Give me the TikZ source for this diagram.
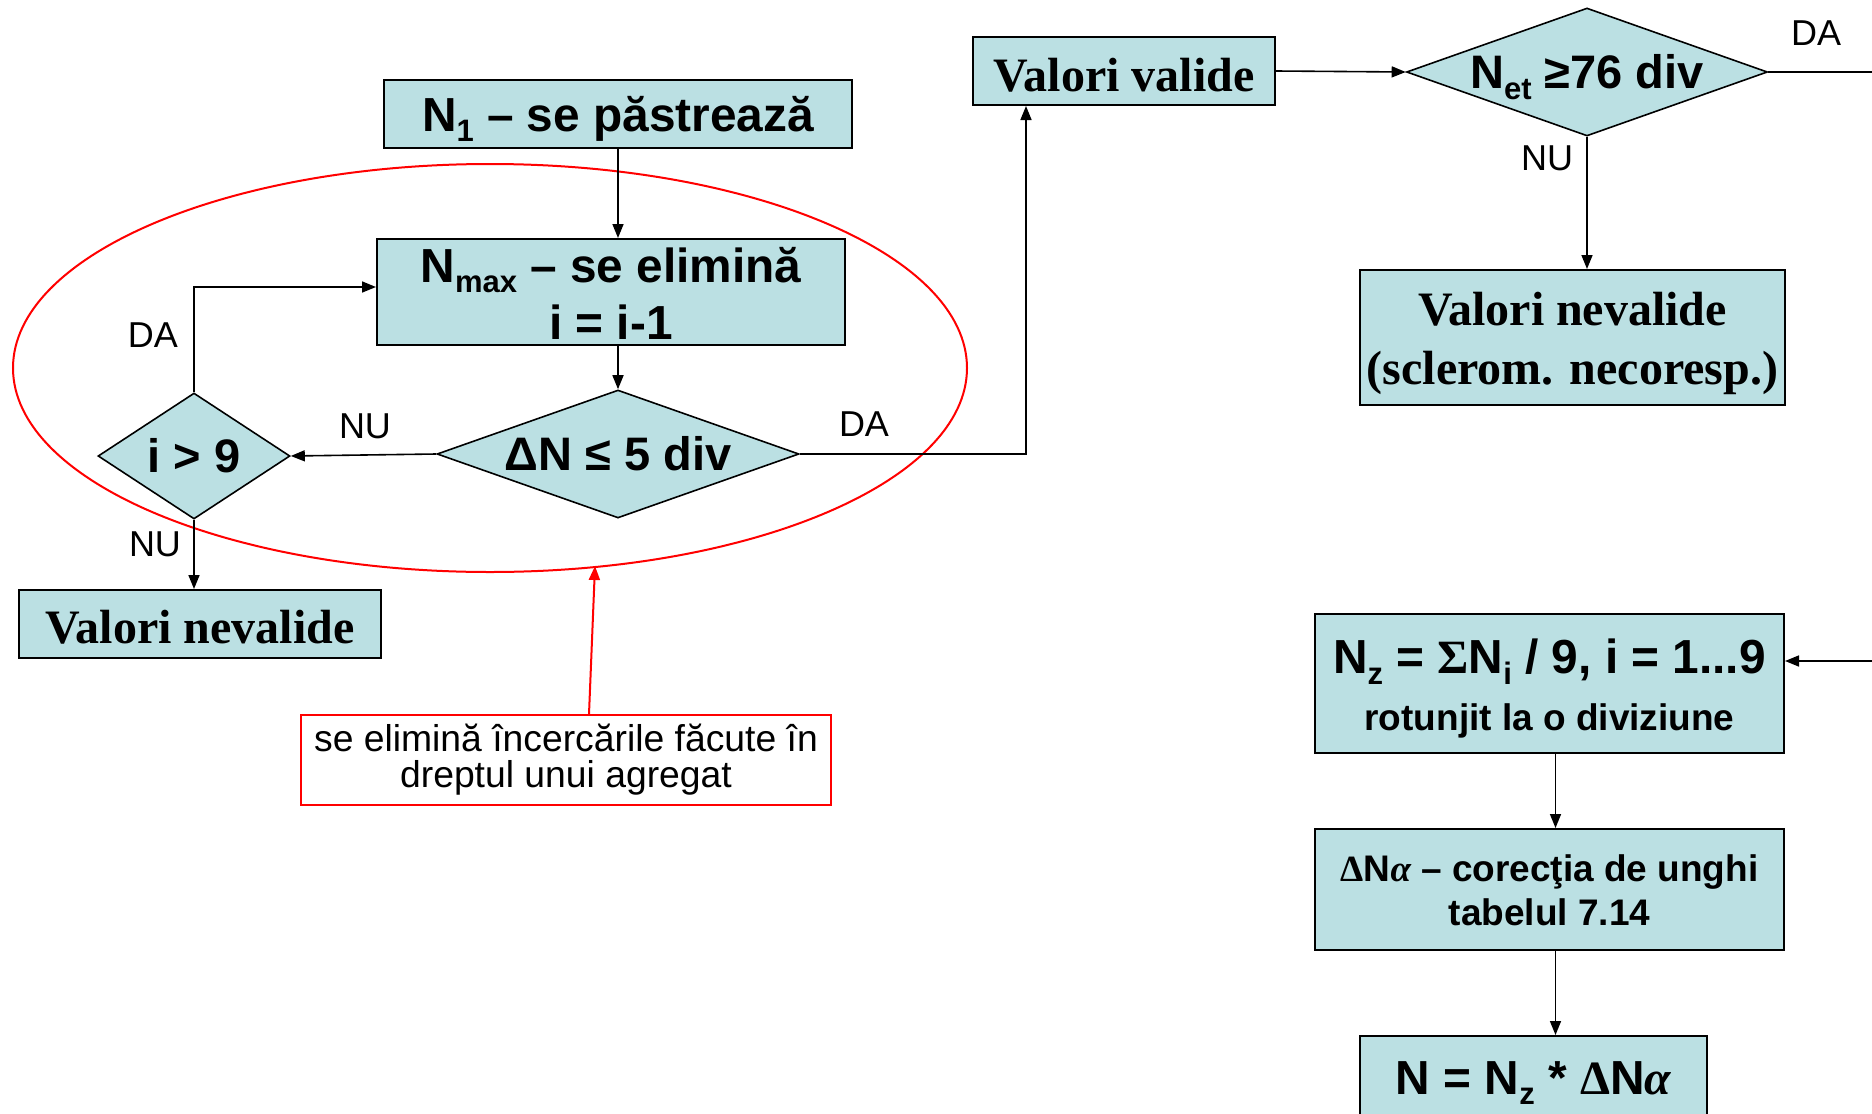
\documentclass[tikz,border=0pt]{standalone}
\usepackage{fontspec}
\setmainfont{Liberation Sans}
\newfontfamily\tnr{Liberation Serif}
\usetikzlibrary{shapes.geometric,arrows.meta,calc}
\definecolor{boxfill}{RGB}{187,224,227}
\newcommand\fs[2]{\fontsize{#1}{#2}\selectfont}
\newcommand\sbx[2]{\raisebox{-0.22em}{\fontsize{#1}{#1}\selectfont #2}}
\begin{document}
\begin{tikzpicture}[x=1pt,y=-1pt,
 box/.style={draw=black, line width=2pt, fill=boxfill, rectangle, inner sep=0pt},
 bt/.style={font=\bfseries\fs{47.8}{57}, align=center, inner sep=0pt},
 tt/.style={font=\tnr\bfseries\fs{48}{59}, align=center, inner sep=0pt},
 st/.style={font=\bfseries\fs{37}{44}, align=center, inner sep=0pt},
 dia/.style={draw=black, line width=1.6pt, fill=boxfill, diamond, inner sep=0pt},
 dlbl/.style={font=\bfseries\fs{47}{52}, inner sep=0pt},
 conn/.style={line width=1.6pt, -{Triangle[length=14pt,width=11pt]}},
 plainln/.style={line width=1.6pt},
 lab/.style={font=\fs{36}{40}, inner sep=0pt},
]
\useasboundingbox (0,0) rectangle (1872,1114);
\clip (0,0) rectangle (1872,1114);

% left part
\node[box, minimum width=468pt, minimum height=68pt, label={[bt, yshift=-5pt]center:{N\sbx{31}{1} – se păstrează}}] (n1) at (618,114) {};
\node[box, minimum width=468pt, minimum height=106pt, label={[bt, yshift=-1pt]center:{N\sbx{31}{max} – se elimină\\i = i-1}}] (nmax) at (611,292) {};
\node[dia, minimum width=362pt, minimum height=128pt, label={[dlbl]center:{ΔN ≤ 5 div}}] (dn) at (618,454) {};
\node[dia, minimum width=192pt, minimum height=126pt, label={[dlbl]center:{i > 9}}] (i9) at (194,456) {};
\node[box, minimum width=362pt, minimum height=68pt, label={[tt, yshift=-3pt]center:{Valori nevalide}}] (vnl) at (200,624) {};
\node[draw=red, line width=1.6pt, fill=white, minimum width=530pt, minimum height=90pt, inner sep=0pt, align=center, font=\fs{37.3}{37}] (note) at (566,760) {se elimină încercările făcute în\\[-1pt]dreptul unui agregat};

% right part
\node[box, minimum width=302pt, minimum height=68pt, label={[tt, yshift=-4pt]center:{Valori valide}}] (vv) at (1124,71) {};
\node[dia, minimum width=361pt, minimum height=128pt, label={[dlbl, yshift=-5pt]center:{N\sbx{31}{et} ≥76 div}}] (net) at (1587,72) {};
\node[box, minimum width=425pt, minimum height=135pt, label={[tt, yshift=-6pt]center:{Valori nevalide\\(sclerom. necoresp.)}}] (vnr) at (1572.5,337.5) {};
\node[box, minimum width=469pt, minimum height=139pt, label={[bt, yshift=-5pt]center:{N\sbx{31}{z} = {\tnr Σ}N\sbx{31}{i} / 9, i = 1...9\\{\fs{37}{51}rotunjit la o diviziune}}}] (nz) at (1549.5,683.5) {};
\node[box, minimum width=469pt, minimum height=121pt, label={[st, yshift=-1pt]center:{{\tnr Δ}N{\tnr\itshape α} – corecţia de unghi\\tabelul 7.14}}] (dna) at (1549.5,889.5) {};
\node[box, minimum width=347pt, minimum height=88pt, label={[bt, yshift=-3pt]center:{N = N\sbx{31}{z} * {\tnr Δ}N{\tnr\itshape α}}}] (nbox) at (1533.5,1080) {};

% ellipse and red pointer
\node[draw=red, line width=2pt, ellipse, minimum width=954pt, minimum height=408pt, inner sep=0pt] (ell) at (490,368) {};
\coordinate (etip) at (595,566);
\draw[red, line width=2pt, -{Triangle[length=14pt,width=11pt]}] ([xshift=23pt]note.north) -- (etip);

% connectors
\draw[conn] (n1.south) -- (n1.south |- nmax.north);
\draw[conn] (dn.north |- nmax.south) -- (dn.north);
\draw[conn] (dn.west) -- (i9.east);
\draw[conn] (dn.east) -| ([xshift=54pt]vv.south west);
\draw[conn] (i9.north) |- ([yshift=5pt]nmax.west);
\draw[conn] (i9.south) -- (i9.south |- vnl.north);
\draw[conn] (vv.east) -- (net.west);
\coordinate (rout) at (1872,72);
\draw[plainln] (net.east) -- (rout);
\draw[conn] (net.south) -- (net.south |- vnr.north);
\coordinate (rin) at (1872,661);
\draw[conn] (rin) -- (rin -| nz.east);
\draw[conn] ([xshift=6pt]nz.south) -- ([xshift=6pt]nz.south |- dna.north);
\draw[conn] ([xshift=6pt]dna.south) -- ([xshift=6pt]dna.south |- nbox.north);

% labels
\node[lab] (l1) at (153,335) {DA};
\node[lab] (l2) at (365,426) {NU};
\node[lab] (l3) at (864,424) {DA};
\node[lab] (l4) at (155,544) {NU};
\node[lab] (l5) at (1816,33) {DA};
\node[lab] (l6) at (1547,158) {NU};
\end{tikzpicture}
\end{document}
